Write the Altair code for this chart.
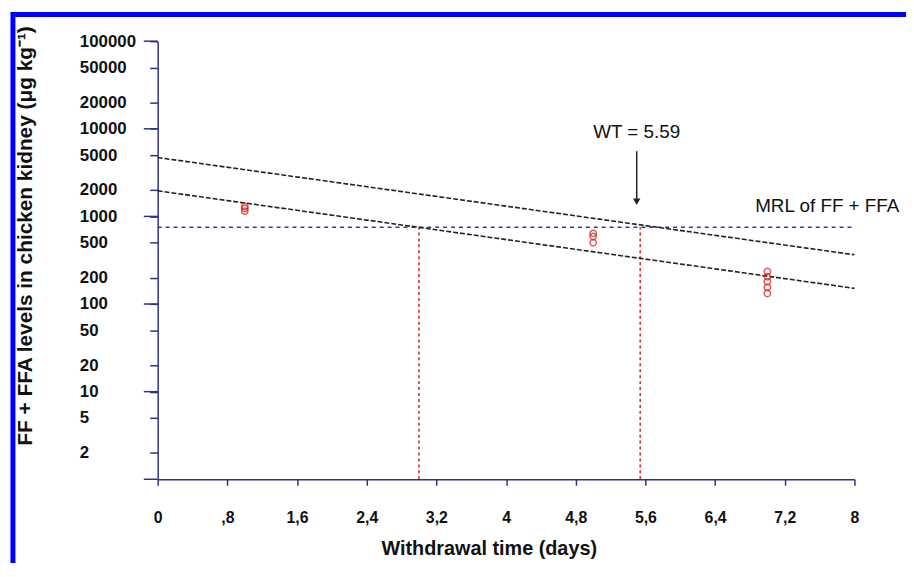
import altair as alt
import pandas as pd

# ---------------- data ----------------
fit_days = [0, 8]
upper_fit = [4700, 365]          # upper dashed regression (tolerance) line
lower_fit = [1960, 151]          # lower dashed regression line
mrl_days = [0, 8]
mrl_level = 750                  # MRL of FF + FFA
wt_days = [3.0, 5.54]            # red dotted withdrawal markers
pt_days = [1, 1, 1, 5, 5, 5, 7, 7, 7, 7, 7]
pt_level = [1300, 1230, 1150, 640, 590, 500, 235, 205, 180, 155, 132]

y_ticks = [2, 5, 10, 20, 50, 100, 200, 500, 1000, 2000, 5000, 10000, 20000, 50000, 100000]
y_major = [1, 10, 100, 1000, 10000, 100000]
x_ticks = [0, 0.8, 1.6, 2.4, 3.2, 4, 4.8, 5.6, 6.4, 7.2, 8]
x_tick_labels = ["0", ",8", "1,6", "2,4", "3,2", "4", "4,8", "5,6", "6,4", "7,2", "8"]

arrow_day = 5.5
arrow_top = 5550
arrow_head = 1470
wt_text = "WT = 5.59"
wt_text_day = 5.5
wt_text_level = 9300
mrl_text = "MRL of FF + FFA"
mrl_text_day = 6.86
mrl_text_level = 1330

y_title = "FF + FFA levels in chicken kidney (\u03bcg kg\u207b\u00b9)"
x_title = "Withdrawal time (days)"

# ---------------- styling ----------------
FONT = "Liberation Sans, Arial, sans-serif"
AXIS_COLOR = "#2f2f8c"
W, H = 703, 442

label_expr = ""
for v, lab in zip(x_ticks, x_tick_labels):
    label_expr += f"datum.value == {v} ? '{lab}' : "
label_expr += "''"

xscale = alt.Scale(domain=[0, 8], nice=False, zero=False)
yscale = alt.Scale(type="log", domain=[1, 100000], nice=False)

xaxis = alt.Axis(values=x_ticks, labelExpr=label_expr, tickSize=6, labelPadding=25,
                 labelFont=FONT, labelFontSize=16, labelFontWeight="bold", labelColor="#111",
                 labelFlush=False, labelOverlap=False, labelBaseline="top",
                 domainColor=AXIS_COLOR, tickColor=AXIS_COLOR, domainWidth=1.5, tickWidth=1.5,
                 grid=False, title=x_title, titleFont=FONT, titleFontSize=20,
                 titleFontWeight="bold", titleColor="#111", titleX=334, titleY=76,
                 titleAlign="center", titleBaseline="alphabetic")
yaxis = alt.Axis(values=y_ticks, format="d", tickSize=8, labelAlign="left", labelPadding=71,
                 labelBaseline="middle", labelFont=FONT, labelFontSize=17, labelFontWeight="bold",
                 labelColor="#111", labelOverlap=False, labelFlush=False,
                 domainColor=AXIS_COLOR, tickColor=AXIS_COLOR, domainWidth=1.5, tickWidth=1.5,
                 grid=False, title=y_title, titleFont=FONT, titleFontSize=21,
                 titleFontWeight="bold", titleColor="#111", titleAngle=270,
                 titleX=-133, titleY=196, titleAlign="center", titleBaseline="middle")

X = alt.X("x:Q", scale=xscale, axis=xaxis)
Y = alt.Y("y:Q", scale=yscale, axis=yaxis)

fits = pd.DataFrame({
    "x": fit_days + fit_days,
    "y": upper_fit + lower_fit,
    "line": ["upper", "upper", "lower", "lower"],
})
fit_layer = alt.Chart(fits).mark_line(color="#222222", strokeWidth=1.6, strokeDash=[5, 2]).encode(
    x=X, y=Y, detail="line:N")

mrl_df = pd.DataFrame({"x": mrl_days, "y": [mrl_level, mrl_level]})
mrl_layer = alt.Chart(mrl_df).mark_line(color="#3535a5", strokeWidth=1.5, strokeDash=[4, 4]).encode(
    x=X, y=Y)

wt_df = pd.DataFrame({"x": wt_days, "y": [1, 1], "y2": [mrl_level, mrl_level]})
wt_layer = alt.Chart(wt_df).mark_rule(color="#d42020", strokeWidth=1.5, strokeDash=[3, 3]).encode(
    x=X, y=Y, y2="y2:Q")

major_df = pd.DataFrame({"y": y_major})
major_ticks = alt.Chart(major_df).mark_rule(color=AXIS_COLOR, strokeWidth=1.5).encode(
    y=Y, x=alt.value(-14), x2=alt.value(0))

pts = pd.DataFrame({"x": pt_days, "y": pt_level})
pt_layer = alt.Chart(pts).mark_point(shape="circle", filled=False, color="#cc1f1f",
                                     size=42, strokeWidth=1.5).encode(x=X, y=Y)

arrow_df = pd.DataFrame({"x": [arrow_day], "y": [arrow_top], "y2": [arrow_head]})
arrow_line = alt.Chart(arrow_df).mark_rule(color="#222222", strokeWidth=1.5).encode(
    x=X, y=Y, y2="y2:Q")
head_df = pd.DataFrame({"x": [arrow_day], "y": [arrow_head]})
arrow_headm = alt.Chart(head_df).mark_point(shape="triangle-down", filled=True, color="#222222",
                                            size=55, opacity=1).encode(x=X, y=Y)

wt_txt_df = pd.DataFrame({"x": [wt_text_day], "y": [wt_text_level], "t": [wt_text]})
wt_txt = alt.Chart(wt_txt_df).mark_text(font=FONT, fontSize=19, color="#111", align="center",
                                         baseline="middle").encode(x=X, y=Y, text="t:N")
mrl_txt_df = pd.DataFrame({"x": [mrl_text_day], "y": [mrl_text_level], "t": [mrl_text]})
mrl_txt = alt.Chart(mrl_txt_df).mark_text(font=FONT, fontSize=19, color="#111", align="left",
                                           baseline="middle").encode(x=X, y=Y, text="t:N")

border = alt.Chart(pd.DataFrame({"a": [0]})).mark_rect(
    filled=False, stroke="#0000ff", strokeWidth=5).encode(
    x=alt.value(-146), x2=alt.value(1200), y=alt.value(-27), y2=alt.value(1200))

chart = alt.layer(
    mrl_layer, wt_layer, fit_layer, major_ticks, pt_layer, arrow_line, arrow_headm,
    wt_txt, mrl_txt, border
).properties(
    width=W, height=H,
    autosize=alt.AutoSizeParams(type="none"),
    padding={"left": 151, "top": 31, "right": 52, "bottom": 82},
    background="white",
).configure_view(stroke=None)

chart.save("out.html", embed_options={"renderer": "svg", "actions": False})
